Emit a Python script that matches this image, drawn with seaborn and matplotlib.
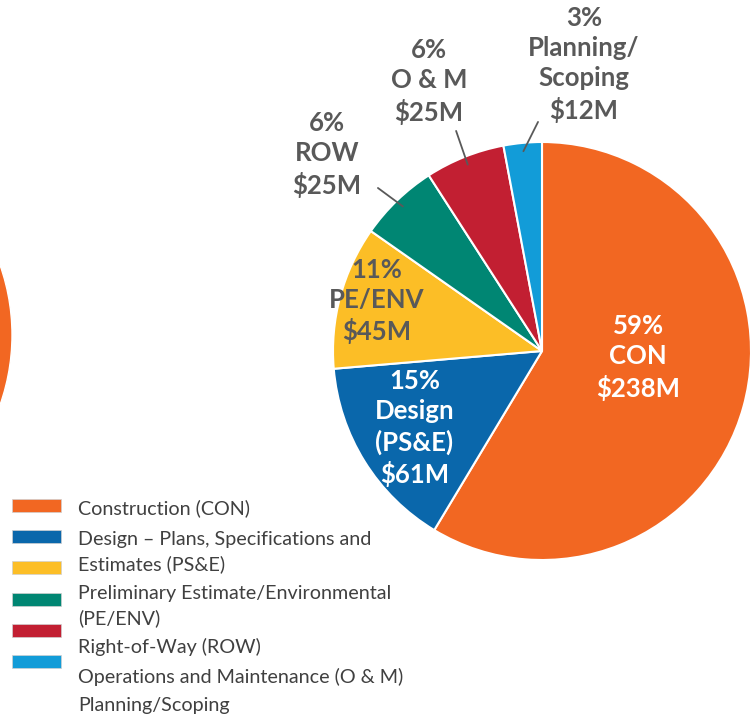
import numpy as np
import matplotlib.pyplot as plt
import seaborn as sns
from matplotlib.patches import Rectangle

# data
categories = ["CON", "Design\n(PS&E)", "PE/ENV", "ROW", "O & M", "Planning/\nScoping"]
amounts = [238, 61, 45, 25, 25, 12]   # $M
percents = [59, 15, 11, 6, 6, 3]
colors = ["#F26722", "#0A67AB", "#FCBE26", "#008673", "#C21F32", "#129CD8"]
legend_lines = [
    "Construction (CON)",
    "Design \u2013 Plans, Specifications and",
    "Estimates (PS&E)",
    "Preliminary Estimate/Environmental",
    "(PE/ENV)",
    "Right-of-Way (ROW)",
    "Operations and Maintenance (O & M)",
    "Planning/Scoping",
]

sns.set_theme(style="white")
plt.rcParams['font.family'] = ['Lato', 'DejaVu Sans']

W, H = 753, 719
fig = plt.figure(figsize=(W / 100, H / 100), dpi=100)

# main pie, centre (542, 351), radius 209 px
cx, cy, r = 542, 351, 209
ax = fig.add_axes([(cx - r) / W, (H - cy - r) / H, 2 * r / W, 2 * r / H])
wedges, _ = ax.pie(amounts, colors=colors, startangle=90, counterclock=False,
                   wedgeprops=dict(edgecolor="white", linewidth=1.5))
ax.set_xlim(-1, 1)
ax.set_ylim(-1, 1)
ax.set_aspect("equal")
ax.axis("off")

# cropped neighbouring pie on the far left
r2 = 210
ax2 = fig.add_axes([(-198 - r2) / W, (H - 335 - r2) / H, 2 * r2 / W, 2 * r2 / H])
ax2.pie([1], colors=[colors[0]], startangle=90)
ax2.set_xlim(-1, 1)
ax2.set_ylim(-1, 1)
ax2.set_aspect("equal")
ax2.axis("off")

# label layout (data units of the main pie)
label_pos = [(0.46, -0.03), (-0.61, -0.37), (-0.79, 0.24),
             (-1.03, 0.94), (-0.54, 1.29), (0.20, 1.37)]
label_col = ["white", "white", "#595959", "#595959", "#595959", "#595959"]
line_end = [None, None, None, (-0.785, 0.78), (-0.411, 1.053), (-0.019, 1.096)]

for w, cat, amt, pct, pos, col, end in zip(wedges, categories, amounts, percents,
                                           label_pos, label_col, line_end):
    ax.text(pos[0], pos[1], f"{pct}%\n{cat}\n${amt}M", ha="center", va="center",
            color=col, fontsize=18.5, fontweight="bold", linespacing=1.3)
    if end is not None:
        mid = np.deg2rad((w.theta1 + w.theta2) / 2)
        ax.plot([0.96 * np.cos(mid), end[0]], [0.96 * np.sin(mid), end[1]],
                color="#595959", lw=1.3, clip_on=False)

# legend, drawn by hand to keep the original's loose alignment
box_y = [499, 530, 561, 593, 624, 655]
for c, y in zip(colors, box_y):
    fig.patches.append(Rectangle((12 / W, 1 - (y + 13) / H), 49 / W, 13 / H,
                                 transform=fig.transFigure, facecolor=c,
                                 edgecolor="#d0d0d0", lw=0.5))
text_y = [508, 539, 564, 593, 618, 647, 677, 705]
for s, y in zip(legend_lines, text_y):
    fig.text(78 / W, 1 - y / H, s, ha="left", va="center", fontsize=14.2,
             color="#404040")

fig.savefig("out.png", dpi=100)
